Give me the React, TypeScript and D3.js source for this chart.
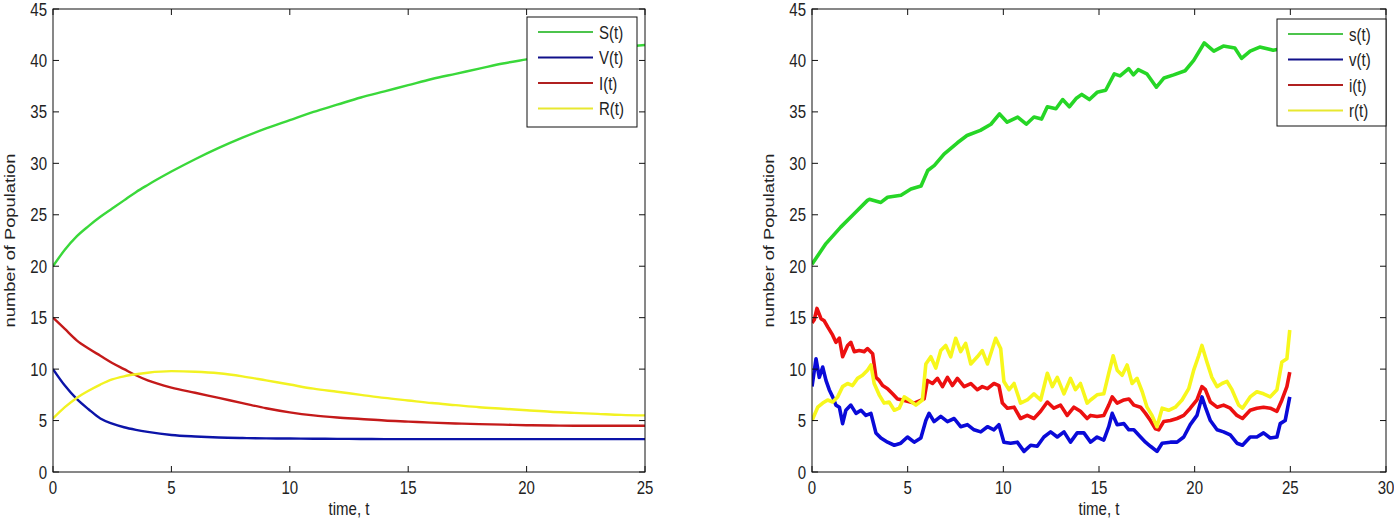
import React from "react";
import * as d3 from "d3";

// ---------- Deterministic model (left panel) ----------
const detT = [0, 0.5, 1, 1.5, 2, 2.5, 3, 3.5, 4, 5, 6, 7, 8, 9, 10, 11, 12, 13, 14, 15, 16, 17, 18, 19, 20, 21, 22, 23, 24, 25];
const detS = [20, 21.6, 22.9, 23.9, 24.8, 25.6, 26.4, 27.2, 27.9, 29.2, 30.4, 31.5, 32.5, 33.4, 34.2, 35.0, 35.7, 36.4, 37.0, 37.6, 38.2, 38.7, 39.2, 39.7, 40.1, 40.5, 40.8, 41.1, 41.3, 41.5];
const detV = [10, 8.4, 7.1, 6.1, 5.2, 4.7, 4.35, 4.1, 3.9, 3.6, 3.45, 3.35, 3.3, 3.27, 3.25, 3.23, 3.22, 3.21, 3.2, 3.2, 3.2, 3.2, 3.2, 3.2, 3.2, 3.2, 3.2, 3.2, 3.2, 3.2];
const detI = [15, 13.9, 12.8, 12.0, 11.3, 10.6, 10.0, 9.4, 8.9, 8.2, 7.7, 7.2, 6.7, 6.2, 5.8, 5.5, 5.3, 5.15, 5.0, 4.9, 4.8, 4.72, 4.65, 4.6, 4.55, 4.52, 4.5, 4.5, 4.5, 4.5];
const detR = [5.2, 6.3, 7.2, 7.9, 8.5, 9.0, 9.3, 9.5, 9.65, 9.8, 9.75, 9.6, 9.3, 8.9, 8.5, 8.1, 7.8, 7.5, 7.2, 6.95, 6.7, 6.5, 6.3, 6.15, 6.0, 5.85, 5.75, 5.65, 5.55, 5.5];

// ---------- Stochastic model (right panel) ----------
const stoST = [0, 0.73, 1.5, 2.2, 2.9, 3.0, 3.6, 3.95, 4.65, 5.17, 5.7, 6.05, 6.4, 6.9, 7.6, 8.1, 8.8, 9.35, 9.8, 10.2, 10.75, 11.2, 11.6, 12.0, 12.3, 12.75, 13.1, 13.45, 13.8, 14.1, 14.5, 14.9, 15.35, 15.8, 16.1, 16.55, 16.8, 17.05, 17.5, 18.0, 18.4, 18.9, 19.5, 19.95, 20.5, 21.0, 21.5, 22.1, 22.45, 22.9, 23.4, 24.1, 25];
const stoS = [20.2, 22.2, 23.8, 25.1, 26.4, 26.5, 26.2, 26.7, 26.9, 27.5, 27.8, 29.3, 29.8, 30.9, 32.0, 32.7, 33.2, 33.8, 34.8, 34.0, 34.5, 33.8, 34.5, 34.3, 35.5, 35.3, 36.2, 35.5, 36.3, 36.7, 36.2, 36.9, 37.1, 38.7, 38.5, 39.2, 38.6, 39.1, 38.7, 37.4, 38.3, 38.6, 39.0, 40.0, 41.7, 40.9, 41.4, 41.2, 40.2, 40.9, 41.3, 41.0, 41.3];

const stoVT = [0, 0.21, 0.38, 0.56, 0.73, 0.9, 1.08, 1.25, 1.43, 1.6, 1.77, 2.03, 2.3, 2.56, 2.82, 3.08, 3.34, 3.6, 3.95, 4.3, 4.64, 4.99, 5.34, 5.69, 5.95, 6.12, 6.38, 6.73, 7.08, 7.43, 7.77, 8.12, 8.47, 8.82, 9.17, 9.51, 9.77, 10.03, 10.38, 10.73, 11.08, 11.43, 11.77, 12.12, 12.47, 12.82, 13.17, 13.51, 13.86, 14.21, 14.56, 14.9, 15.25, 15.51, 15.69, 15.95, 16.3, 16.56, 16.82, 17.17, 17.43, 17.69, 18.03, 18.3, 18.73, 19.08, 19.43, 19.77, 20.12, 20.38, 20.56, 20.82, 21.17, 21.51, 21.86, 22.21, 22.5, 22.9, 23.25, 23.6, 23.95, 24.3, 24.47, 24.73, 24.97];
const stoV = [8.3, 11.0, 9.2, 10.2, 8.9, 8.0, 7.3, 6.5, 6.3, 4.7, 6.0, 6.5, 5.7, 6.0, 5.5, 5.7, 3.8, 3.3, 2.9, 2.6, 2.8, 3.4, 2.9, 3.3, 5.0, 5.7, 4.9, 5.4, 4.9, 5.2, 4.4, 4.6, 4.1, 3.9, 4.4, 4.1, 4.6, 2.9, 2.8, 2.9, 2.0, 2.6, 2.5, 3.4, 3.9, 3.4, 3.9, 2.9, 3.8, 3.8, 2.9, 3.4, 3.1, 4.4, 5.7, 4.6, 4.7, 4.1, 4.1, 3.4, 2.9, 2.5, 2.0, 2.8, 2.9, 2.9, 3.4, 4.6, 5.5, 7.3, 6.3, 5.0, 4.1, 3.9, 3.6, 2.8, 2.6, 3.4, 3.4, 3.8, 3.3, 3.4, 4.7, 5.0, 7.3];

const stoIT = [0, 0.12, 0.26, 0.47, 0.64, 0.82, 1.08, 1.25, 1.43, 1.6, 1.86, 2.03, 2.21, 2.47, 2.73, 2.9, 3.17, 3.34, 3.51, 3.69, 3.95, 4.21, 4.47, 4.73, 5.34, 5.86, 6.03, 6.3, 6.56, 6.82, 7.08, 7.34, 7.6, 7.95, 8.3, 8.64, 8.9, 9.17, 9.51, 9.77, 9.95, 10.21, 10.56, 10.9, 11.25, 11.6, 11.95, 12.3, 12.64, 12.99, 13.34, 13.69, 14.03, 14.38, 14.56, 14.9, 15.25, 15.51, 15.69, 15.95, 16.3, 16.56, 16.82, 17.17, 17.43, 17.69, 17.95, 18.12, 18.38, 18.73, 19.08, 19.43, 19.77, 20.12, 20.38, 20.56, 20.82, 21.17, 21.51, 21.86, 22.21, 22.5, 22.9, 23.25, 23.6, 23.95, 24.3, 24.56, 24.82, 24.97];
const stoI = [14.5, 14.8, 15.9, 14.9, 14.7, 14.1, 13.3, 12.6, 13.0, 11.2, 12.3, 12.6, 11.7, 11.8, 11.7, 12.0, 11.5, 9.2, 8.9, 8.4, 8.1, 7.6, 7.1, 7.0, 6.7, 7.1, 8.9, 8.6, 9.1, 8.3, 9.2, 8.4, 9.1, 8.3, 8.6, 8.0, 8.3, 8.1, 8.6, 8.4, 6.7, 6.2, 6.3, 5.2, 5.5, 5.2, 5.9, 6.8, 6.2, 6.5, 5.5, 6.3, 5.9, 5.2, 5.5, 5.4, 5.5, 6.5, 7.3, 6.7, 7.0, 7.1, 6.5, 6.3, 5.7, 5.0, 4.2, 4.1, 4.9, 5.0, 5.2, 5.5, 6.2, 7.0, 8.3, 8.0, 6.8, 6.3, 6.5, 6.2, 5.5, 5.2, 6.0, 6.2, 6.3, 6.2, 5.9, 7.0, 8.3, 9.7];

const stoRT = [0, 0.09, 0.3, 0.56, 0.82, 1.08, 1.34, 1.6, 1.86, 2.12, 2.38, 2.64, 2.9, 3.08, 3.25, 3.51, 3.77, 4.03, 4.3, 4.56, 4.82, 5.08, 5.43, 5.77, 5.95, 6.21, 6.47, 6.73, 6.99, 7.25, 7.51, 7.77, 8.03, 8.3, 8.64, 8.9, 9.17, 9.43, 9.6, 9.86, 10.03, 10.3, 10.56, 10.9, 11.25, 11.6, 11.95, 12.3, 12.56, 12.82, 13.17, 13.51, 13.77, 14.03, 14.38, 14.56, 14.9, 15.25, 15.51, 15.74, 15.95, 16.21, 16.47, 16.73, 16.99, 17.26, 17.51, 17.77, 18.03, 18.3, 18.64, 18.99, 19.34, 19.69, 19.95, 20.21, 20.38, 20.64, 20.9, 21.17, 21.43, 21.69, 21.95, 22.3, 22.5, 22.9, 23.25, 23.6, 23.95, 24.3, 24.56, 24.82, 24.97];
const stoR = [5.0, 5.4, 6.3, 6.7, 7.0, 6.8, 7.3, 8.3, 8.6, 8.4, 9.1, 9.4, 9.9, 10.4, 8.6, 7.5, 6.7, 6.8, 6.0, 6.2, 7.3, 7.0, 6.5, 7.0, 10.5, 11.2, 10.1, 11.8, 12.3, 11.2, 13.0, 11.7, 12.5, 10.5, 11.2, 11.8, 10.5, 12.0, 13.0, 12.0, 8.8, 8.0, 8.6, 6.7, 7.0, 7.6, 7.0, 9.6, 8.3, 9.2, 7.6, 9.1, 8.0, 8.6, 6.7, 7.0, 7.5, 7.6, 9.6, 11.3, 9.9, 9.4, 10.4, 8.6, 9.1, 7.8, 6.3, 5.5, 4.4, 6.2, 6.0, 6.3, 7.0, 8.1, 9.9, 11.3, 12.3, 10.7, 9.2, 8.3, 8.6, 8.8, 8.0, 6.5, 6.2, 7.3, 7.8, 7.6, 7.3, 8.0, 10.7, 11.0, 13.8];

// ---------- Axis ticks and labels ----------
const yTicks = [0, 5, 10, 15, 20, 25, 30, 35, 40, 45];
const leftXTicks = [0, 5, 10, 15, 20, 25];
const rightXTicks = [0, 5, 10, 15, 20, 25, 30];
const leftLegend = ["S(t)", "V(t)", "I(t)", "R(t)"];
const rightLegend = ["s(t)", "v(t)", "i(t)", "r(t)"];
const xLabel = "time, t";
const yLabel = "number of Population";

const FONT = "'Liberation Sans', Arial, Helvetica, sans-serif";
const SY = 1.22;

type Series = { t: number[]; v: number[]; color: string };

function T(props: { x: number; y: number; anchor?: string; rotate?: boolean; size?: number; children: React.ReactNode }) {
  const { x, y, anchor = "start", rotate = false, size = 15, children } = props;
  return (
    <text
      transform={`translate(${x},${y}) scale(1,${SY})${rotate ? " rotate(-90)" : ""}`}
      textAnchor={anchor}
      fontSize={size}
      fontFamily={FONT}
      fill="#222"
    >
      {children}
    </text>
  );
}

function Panel(props: {
  id: string;
  x0: number;
  x1: number;
  y0: number;
  y1: number;
  xMax: number;
  xTicks: number[];
  series: Series[];
  legend: string[];
  legendColors: string[];
  legendBox: { x: number; y: number; w: number; h: number };
  strokeWidth: number;
  curve: any;
}) {
  const { id, x0, x1, y0, y1, xMax, xTicks, series, legend, legendColors, legendBox, strokeWidth, curve } = props;
  const xs = d3.scaleLinear().domain([0, xMax]).range([x0, x1]);
  const ys = d3.scaleLinear().domain([0, 45]).range([y1, y0]);
  const tickLen = 6;
  const line = d3
    .line<[number, number]>()
    .x((d) => xs(d[0]))
    .y((d) => ys(d[1]))
    .curve(curve);
  const rowOff = [15, 40.5, 66, 91.5];
  return (
    <g>
      <defs>
        <clipPath id={id}>
          <rect x={x0} y={y0} width={x1 - x0} height={y1 - y0} />
        </clipPath>
      </defs>
      <g clipPath={`url(#${id})`}>
        {series.map((s, i) => (
          <path
            key={i}
            d={line(s.t.map((t, k) => [t, s.v[k]] as [number, number])) || ""}
            fill="none"
            stroke={s.color}
            strokeWidth={strokeWidth}
            strokeLinejoin="round"
          />
        ))}
      </g>
      <rect x={x0} y={y0} width={x1 - x0} height={y1 - y0} fill="none" stroke="#111" strokeWidth={1} />
      {xTicks.map((t) => (
        <g key={"xt" + t}>
          <line x1={xs(t)} x2={xs(t)} y1={y1} y2={y1 - tickLen} stroke="#111" />
          <line x1={xs(t)} x2={xs(t)} y1={y0} y2={y0 + tickLen} stroke="#111" />
          <T x={xs(t)} y={y1 + 22} anchor="middle">
            {t}
          </T>
        </g>
      ))}
      {yTicks.map((v) => (
        <g key={"yt" + v}>
          <line x1={x0} x2={x0 + tickLen} y1={ys(v)} y2={ys(v)} stroke="#111" />
          <line x1={x1} x2={x1 - tickLen} y1={ys(v)} y2={ys(v)} stroke="#111" />
          <T x={x0 - 6} y={ys(v) + 6.5} anchor="end">
            {v}
          </T>
        </g>
      ))}
      <T x={(x0 + x1) / 2} y={y1 + 43} anchor="middle">
        {xLabel}
      </T>
      <T x={x0 - 38} y={(y0 + y1) / 2} anchor="middle" rotate>
        {yLabel}
      </T>
      <rect x={legendBox.x} y={legendBox.y} width={legendBox.w} height={legendBox.h} fill="#fff" stroke="#111" strokeWidth={1} />
      {legend.map((lab, i) => (
        <g key={lab}>
          <line
            x1={legendBox.x + 11}
            x2={legendBox.x + 66}
            y1={legendBox.y + rowOff[i]}
            y2={legendBox.y + rowOff[i]}
            stroke={legendColors[i]}
            strokeWidth={2}
          />
          <T x={legendBox.x + 72} y={legendBox.y + rowOff[i] + 6.5}>
            {lab}
          </T>
        </g>
      ))}
    </g>
  );
}

export default function App() {
  const leftSeries: Series[] = [
    { t: detT, v: detS, color: "#3ad83a" },
    { t: detT, v: detV, color: "#0c14a8" },
    { t: detT, v: detI, color: "#c41a1a" },
    { t: detT, v: detR, color: "#f2f222" },
  ];
  const rightSeries: Series[] = [
    { t: stoST, v: stoS, color: "#26d626" },
    { t: stoVT, v: stoV, color: "#0a0ad8" },
    { t: stoIT, v: stoI, color: "#ec1010" },
    { t: stoRT, v: stoR, color: "#f7f71c" },
  ];
  const legendColors = ["#4cc44c", "#10108a", "#b02020", "#e8e830"];
  return (
    <svg width={1394} height={521} style={{ position: "absolute", left: 0, top: 0, background: "#fff" }}>
      <rect x={0} y={0} width={1394} height={521} fill="#fff" />
      <Panel
        id="clipL"
        x0={53}
        x1={645}
        y0={9}
        y1={472}
        xMax={25}
        xTicks={leftXTicks}
        series={leftSeries}
        legend={leftLegend}
        legendColors={legendColors}
        legendBox={{ x: 527, y: 17, w: 110, h: 110 }}
        strokeWidth={2.4}
        curve={d3.curveMonotoneX}
      />
      <Panel
        id="clipR"
        x0={812}
        x1={1386}
        y0={9}
        y1={472}
        xMax={30}
        xTicks={rightXTicks}
        series={rightSeries}
        legend={rightLegend}
        legendColors={legendColors}
        legendBox={{ x: 1277, y: 19, w: 109, h: 107 }}
        strokeWidth={3.6}
        curve={d3.curveLinear}
      />
    </svg>
  );
}
